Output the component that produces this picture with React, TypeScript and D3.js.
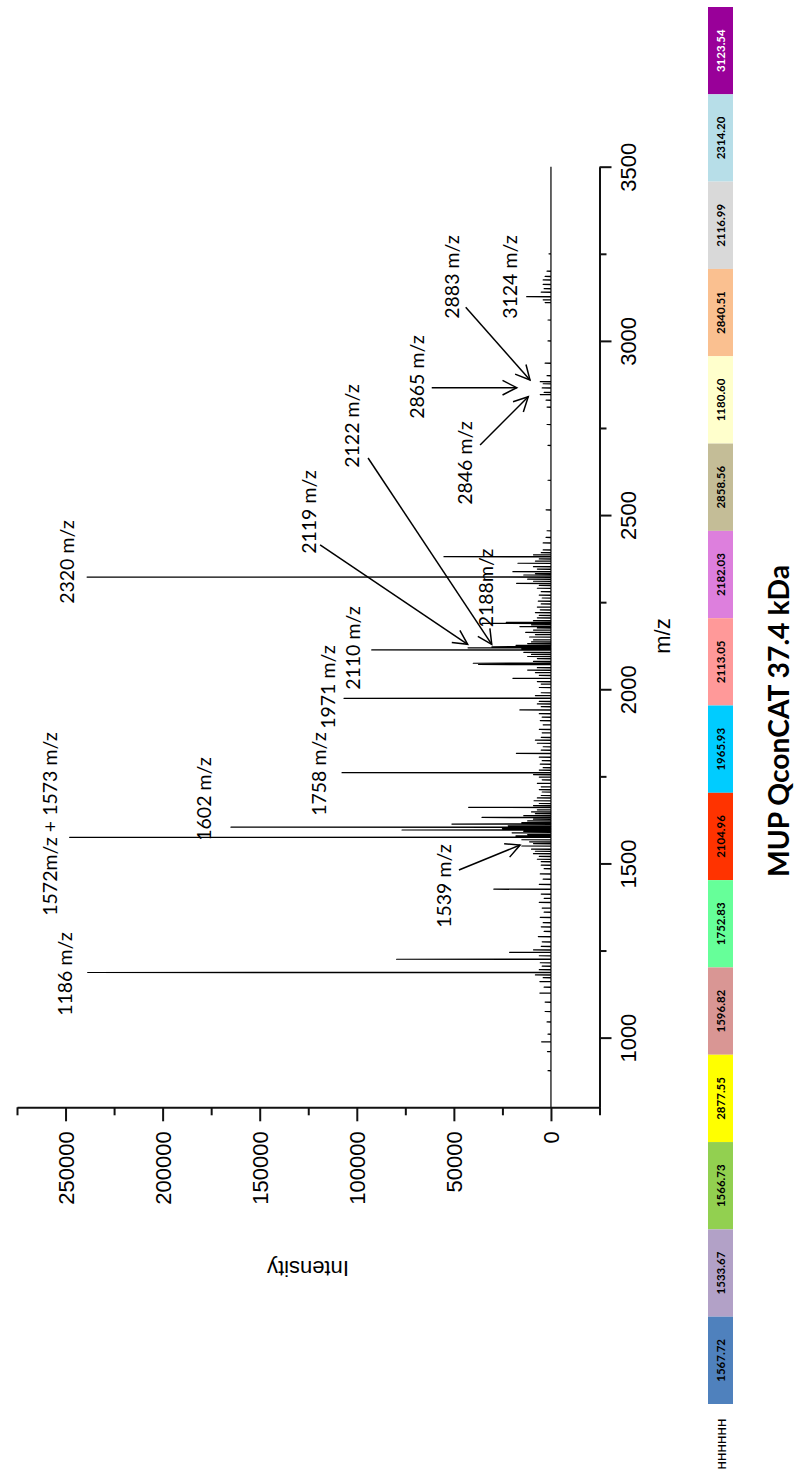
import React, { useEffect, useRef } from 'react';
import * as d3 from 'd3';

const width = 796;
const height = 1477;

// peak positions (m/z) and heights (intensity)
const peakMz = [
  905, 960, 988, 1010, 1045, 1075, 1102, 1128, 1145, 1161, 1172, 1180, 1187, 1195, 1205, 1215, 1225, 1235,
  1245, 1252, 1262, 1275, 1290, 1305, 1318, 1330, 1345, 1360, 1372, 1388, 1400, 1412, 1426, 1440, 1455,
  1470, 1485, 1495, 1505, 1512, 1520, 1528, 1535, 1541, 1550, 1557, 1562, 1568, 1575, 1579, 1583, 1588,
  1592, 1596, 1600, 1604, 1608, 1613, 1617, 1622, 1627, 1632, 1637, 1643, 1648, 1654, 1661, 1666, 1672,
  1680, 1688, 1695, 1705, 1712, 1720, 1730, 1740, 1748, 1755, 1760.5, 1768, 1775, 1785, 1795, 1805, 1816,
  1825, 1835, 1845, 1854, 1862, 1875, 1885, 1898, 1910, 1920, 1930, 1940.6, 1950, 1958, 1965, 1974, 1982,
  1990, 2005, 2015, 2022, 2031.5, 2040, 2048, 2055, 2062, 2071, 2074.6, 2080, 2088, 2094, 2100, 2106,
  2112.8, 2116, 2119, 2122, 2126, 2131, 2136, 2142, 2150, 2157, 2163, 2170, 2176, 2180, 2185, 2189, 2192,
  2197, 2205, 2212, 2220, 2228, 2236, 2245, 2253, 2262, 2270, 2280, 2290, 2298, 2304, 2310, 2316, 2322,
  2328, 2332, 2337.6, 2345, 2352, 2361.7, 2368, 2374, 2380.6, 2386, 2392, 2400, 2420, 2436, 2455, 2515,
  2600, 2700, 2760, 2810, 2830, 2846, 2852, 2865, 2877, 2883, 2900, 2936, 3000, 3060, 3110, 3118, 3127,
  3140, 3150, 3162, 3175, 3185, 3200, 3250,
];
const peakIntensity = [
  1500, 1800, 4800, 1500, 2000, 3000, 3000, 5700, 3500, 5700, 4000, 8000, 238600, 6000, 4500, 5500, 79500, 6000,
  21300, 9000, 5000, 4500, 6500, 3500, 5000, 4000, 5500, 3500, 4500, 6000, 3500, 5000, 29400, 6000, 4000,
  5500, 3500, 5000, 5000, 7000, 6000, 9000, 8000, 10000, 15000, 9000, 11000, 15000, 247900, 18000, 12000, 20000,
  14000, 76700, 25000, 164800, 22000, 51000, 15000, 12000, 9000, 35500, 14000, 8000, 10000, 7000, 42400, 9000, 6000,
  8700, 7000, 5000, 4500, 6000, 5000, 7000, 4500, 6000, 9000, 107600, 6000, 4000, 5500, 4500, 6000, 17800,
  5000, 4000, 7000, 8000, 5000, 4500, 6000, 4000, 5500, 4500, 6000, 16000, 5000, 7000, 6000, 106600, 8000,
  5000, 6000, 5000, 7000, 19600, 6000, 8000, 12000, 7000, 37300, 40000, 9000, 7000, 12000, 10000, 14000,
  92300, 15000, 42700, 30400, 18000, 12000, 10000, 9000, 11000, 8000, 13000, 9000, 7000, 16000, 10000, 35500, 23000,
  9000, 7000, 6000, 8000, 5500, 7000, 5000, 6500, 4500, 6000, 5000, 7000, 6000, 17700, 9000, 12000, 238900,
  14000, 8000, 19600, 7000, 9000, 17000, 8000, 6000, 55100, 9000, 5000, 4000, 4000, 2500, 2000, 2500,
  1500, 1500, 2000, 2000, 2500, 5500, 3500, 4500, 4000, 5500, 2000, 3000, 1500, 1500, 3000, 4000, 12500,
  5000, 3500, 4000, 4000, 3000, 2000, 1000,
];

const mzTicks = [1000, 1500, 2000, 2500, 3000, 3500];
const mzMinorTicks = [1250, 1750, 2250, 2750, 3250];
const intensityTicks = [0, 50000, 100000, 150000, 200000, 250000];
const intensityMinorTicks = [-25000, 25000, 75000, 125000, 175000, 225000, 275000];

// peak annotations: text, and where the text sits (m/z, intensity)
const noteText = [
  '1186 m/z', '1572m/z + 1573 m/z', '1602 m/z', '1758 m/z', '1539 m/z', '1971 m/z', '2110 m/z',
  '2188m/z', '2320 m/z', '2119 m/z', '2122 m/z', '2865 m/z', '2846 m/z', '2883 m/z', '3124 m/z',
];
const noteMz = [1182.6, 1613.2, 1685, 1756.7, 1435.2, 2006.5, 2118.4, 2290.6, 2365.3, 2508.8, 2755.7, 2896.3, 2649.5, 3183.4, 3183.4];
const noteIntensity = [250300, 258300, 178700, 119700, 55300, 115300, 102100, 33700, 249500, 125100, 102600, 69500, 44300, 51000, 21600];

// arrows from a label to its peak
const arrowFromMz = [1481.2, 2414.1, 2663.8, 2865.6, 3096.4, 2701.1];
const arrowFromIntensity = [47400, 118900, 94200, 61400, 43900, 36500];
const arrowToMz = [1552.9, 2129, 2129, 2865.6, 2887.7, 2839.8];
const arrowToIntensity = [15900, 42900, 30500, 17600, 10800, 11700];

// peptide bar, top to bottom
const barLabels = [
  '3123.54', '2314.20', '2116.99', '2840.51', '1180.60', '2858.56', '2182.03', '2113.05',
  '1965.93', '2104.96', '1752.83', '1596.82', '2877.55', '1566.73', '1533.67', '1567.72',
];
const barColors = [
  '#990099', '#B7DEE8', '#D9D9D9', '#FAC090', '#FFFFCC', '#C4BD97', '#DD7FDD', '#FF9999',
  '#00CCFF', '#FF3300', '#66FF99', '#D99694', '#FFFF00', '#92D050', '#B2A1C7', '#4F81BD',
];

const axisFont = '"Liberation Sans", Arial, sans-serif';
const noteFont = 'Lato, "Open Sans", sans-serif';

const App = () => {
  const mzAxisRef = useRef<SVGGElement>(null);
  const intAxisRef = useRef<SVGGElement>(null);

  const x = d3.scaleLinear().domain([-25000, 275000]).range([599.5, 17]);
  const y = d3.scaleLinear().domain([800, 3500]).range([1107.3, 166.7]);

  useEffect(() => {
    const gx = d3.select(intAxisRef.current);
    gx.selectAll('*').remove();
    gx.append('g')
      .call(d3.axisBottom(x).tickValues(intensityMinorTicks).tickSize(8).tickSizeOuter(0).tickFormat(() => ''))
      .call(g => g.select('.domain').remove());
    gx.append('g')
      .call(d3.axisBottom(x).tickValues(intensityTicks).tickSize(14).tickSizeOuter(0).tickFormat(d3.format('d')));
    gx.selectAll('path, line').attr('stroke', '#111').attr('stroke-width', 2);
    gx.selectAll('text')
      .attr('transform', 'rotate(-90)')
      .attr('x', -24)
      .attr('y', 0)
      .attr('dy', '0.35em')
      .attr('text-anchor', 'end')
      .attr('fill', '#000')
      .attr('font-size', 22)
      .attr('font-family', axisFont);

    const gy = d3.select(mzAxisRef.current);
    gy.selectAll('*').remove();
    gy.append('g')
      .call(d3.axisRight(y).tickValues(mzMinorTicks).tickSize(7).tickSizeOuter(0).tickFormat(() => ''))
      .call(g => g.select('.domain').remove());
    gy.append('g')
      .call(d3.axisRight(y).tickValues(mzTicks).tickSize(12).tickSizeOuter(0).tickFormat(d3.format('d')));
    gy.selectAll('path, line').attr('stroke', '#111').attr('stroke-width', 2);
    gy.selectAll('text')
      .attr('transform', 'rotate(-90)')
      .attr('x', 0)
      .attr('y', 28.5)
      .attr('dy', '0.35em')
      .attr('text-anchor', 'middle')
      .attr('fill', '#000')
      .attr('font-size', 22)
      .attr('font-family', axisFont);
  });

  // spectrum as thin spikes on a zero baseline
  const order = d3.range(peakMz.length).sort((a, b) => peakMz[a] - peakMz[b]);
  const pts: [number, number][] = [[800, 0]];
  order.forEach(i => {
    pts.push([peakMz[i] - 0.6, 0], [peakMz[i], peakIntensity[i]], [peakMz[i] + 0.6, 0]);
  });
  pts.push([3500, 0]);
  const line = d3.line<[number, number]>()
    .x(d => x(d[1]))
    .y(d => y(d[0]));

  const bar = d3.scaleBand<number>().domain(d3.range(barLabels.length)).range([7, 1404]);

  const arrows = arrowFromMz.map((m, i) => {
    const x0 = x(arrowFromIntensity[i]), y0 = y(m);
    const x1 = x(arrowToIntensity[i]), y1 = y(arrowToMz[i]);
    const a = Math.atan2(y1 - y0, x1 - x0);
    const len = 16, spread = (27 * Math.PI) / 180;
    const h1 = [x1 - len * Math.cos(a - spread), y1 - len * Math.sin(a - spread)];
    const h2 = [x1 - len * Math.cos(a + spread), y1 - len * Math.sin(a + spread)];
    return { x0, y0, x1, y1, head: `M${h1[0]},${h1[1]}L${x1},${y1}L${h2[0]},${h2[1]}` };
  });

  return (
    <svg width={width} height={height} style={{ position: 'absolute', left: 0, top: 0, background: '#fff' }}>
      <rect width={width} height={height} fill="#fff" />
      <path d={line(pts) || ''} fill="none" stroke="#000" strokeWidth={1.2} strokeLinejoin="round" />

      <g ref={intAxisRef} transform={`translate(0,${y(800)})`} />
      <g ref={mzAxisRef} transform={`translate(${x(-25000)},0)`} />

      <text x={308} y={1268} transform="rotate(180,308,1268)" textAnchor="middle" dominantBaseline="central"
        fontSize={22} fontFamily={axisFont}>Intensity</text>
      <text x={662} y={636} transform="rotate(-90,662,636)" textAnchor="middle" dominantBaseline="central"
        fontSize={22} fontFamily={axisFont}>m/z</text>

      {noteText.map((t, i) => {
        const px = x(noteIntensity[i]), py = y(noteMz[i]);
        return (
          <text key={t} x={px} y={py} transform={`rotate(-90,${px},${py})`} textAnchor="middle"
            dominantBaseline="central" fontSize={19.5} fontFamily={noteFont}>{t}</text>
        );
      })}
      {arrows.map((a, i) => (
        <g key={i} stroke="#000" strokeWidth={1.5} fill="none">
          <line x1={a.x0} y1={a.y0} x2={a.x1} y2={a.y1} />
          <path d={a.head} />
        </g>
      ))}

      {barLabels.map((t, i) => {
        const cy = (bar(i) || 0) + bar.bandwidth() / 2;
        return (
          <g key={t}>
            <rect x={708} y={bar(i)} width={25} height={bar.bandwidth()} fill={barColors[i]} />
            <text x={720.5} y={cy} transform={`rotate(-90,720.5,${cy})`} textAnchor="middle" dominantBaseline="central"
              fontSize={11.5} fontWeight="bold" fontFamily={noteFont} fill={i === 0 ? '#fff' : '#000'}>{t}</text>
          </g>
        );
      })}
      <text x={721} y={1444} transform="rotate(-90,721,1444)" textAnchor="middle" dominantBaseline="central"
        fontSize={11} fontWeight="bold" fontFamily={noteFont}>HHHHHH</text>

      <text x={778} y={721} transform="rotate(-90,778,721)" textAnchor="middle" dominantBaseline="central"
        fontSize={28} fontWeight="bold" fontFamily={noteFont} textLength={312} lengthAdjust="spacingAndGlyphs">
        MUP QconCAT 37.4 kDa
      </text>
    </svg>
  );
};

export default App;
